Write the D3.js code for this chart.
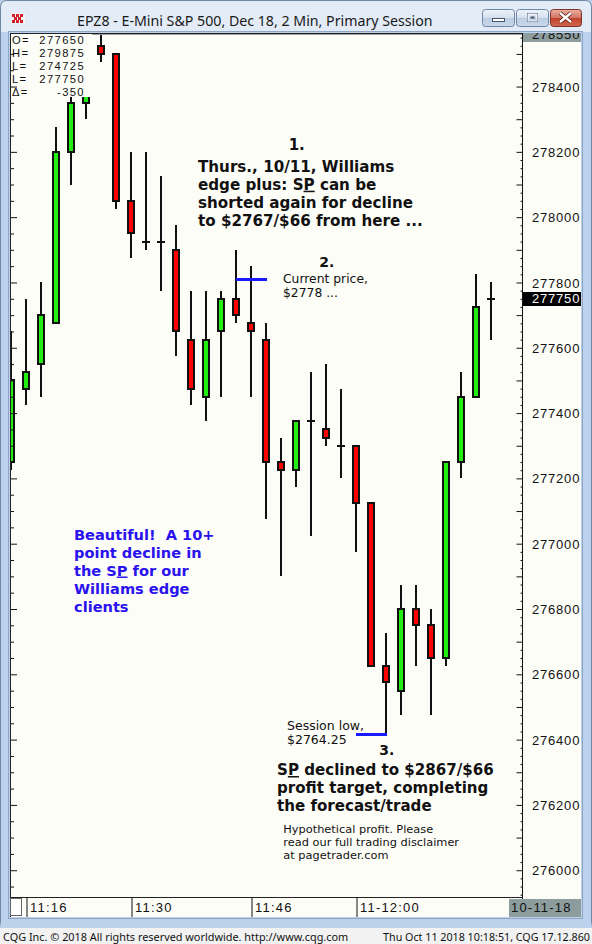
<!DOCTYPE html>
<html><head><meta charset="utf-8">
<script src="https://cdn.jsdelivr.net/npm/d3@7"></script>
<style>
html,body{margin:0;padding:0;background:#fff;}
svg{display:block;}
</style></head>
<body>
<svg id="c" width="592" height="944"></svg>
<script>
// ---------- DATA ----------
const barTimes = ["11:14","11:16","11:18","11:20","11:22","11:24","11:26","11:28","11:30","11:32","11:34",
  "11:36","11:38","11:40","11:42","11:44","11:46","11:48","11:50","11:52","11:54","11:56","11:58",
  "12:00","12:02","12:04","12:06","12:08","12:10","12:12","12:14","12:16","12:18"];
const opens  = [277250,277475,277550,277675,278200,278350,278525,278500,278050,277925,277925,
  277900,277625,277450,277650,277750,277675,277625,277250,277225,277375,277350,277300,
  277300,277125,276625,276550,276800,276750,276650,277250,277450,277750];
const highs  = [277650,277750,277800,278275,278375,278400,278575,278500,278200,278200,278125,
  277975,277775,277775,277775,277900,277850,277675,277325,277375,277525,277550,277475,
  277300,277125,276725,276875,276875,276800,277250,277525,277825,277800];
const lows   = [277225,277425,277450,277675,278100,278300,278475,278025,277875,277900,277775,
  277575,277425,277375,277450,277675,277450,277075,276900,277175,277025,277300,277200,
  276975,276625,276418,276475,276625,276475,276625,277200,277450,277625];
const closes = [277500,277525,277700,278200,278350,278375,278500,278050,277950,277925,277925,
  277650,277475,277625,277750,277700,277650,277250,277225,277375,277375,277325,277300,
  277125,276625,276575,276800,276750,276650,277250,277450,277725,277750];

const yTickValues = [276000,276200,276400,276600,276800,277000,277200,277400,277600,277800,278000,278200,278400];
const xTickBars   = [1, 8, 16, 23];
const xTickLabels = ["11:16","11:30","11:46","11-12:00"];
const dateLabel   = "10-11-18";
const lastPrice   = 277750;
const topMarker   = "278550";

const infoLabels = ["O=","H=","L=","L=","\u0394="];
const infoValues = ["277650","279875","274725","277750","-350"];

const currentPriceMark = {bar0: 15, bar1: 17.07, price: 277810};
const sessionLowMark   = {bar0: 23, bar1: 25.07, price: 276418};

const titleText  = "EPZ8 - E-Mini S&P 500, Dec 18, 2 Min, Primary Session";
const footLeft   = "CQG Inc. \u00A9 2018 All rights reserved worldwide. http://www.cqg.com";
const footRight  = "Thu Oct 11 2018 10:18:51, CQG 17.12.860";

// ---------- LAYOUT ----------
const W = 592, H = 944;
const plot = {l: 10, r: 522, t: 33, b: 897};
const svg = d3.select("#c");
const defs = svg.append("defs");

const x = d3.scaleLinear().domain([0, 1]).range([11, 26]);
const y = d3.scaleLinear().domain([275918, 278564]).range([plot.b, plot.t]);

// gradients
function grad(id, stops, vertical=true){
  const g = defs.append("linearGradient").attr("id", id)
    .attr("x1",0).attr("y1",0).attr("x2", vertical?0:1).attr("y2", vertical?1:0);
  stops.forEach(s => g.append("stop").attr("offset", s[0]).attr("stop-color", s[1]));
}
grad("gTitle", [[0,"#e3ecf7"],[1,"#c6d7ec"]]);
grad("gBtn", [[0,"#eef3fa"],[0.5,"#d3dfee"],[0.51,"#bccde3"],[1,"#c9d8ea"]]);
grad("gClose", [[0,"#eab0a2"],[0.5,"#d27363"],[0.51,"#c2412c"],[1,"#d0684f"]]);

defs.append("clipPath").attr("id","plotClip").append("rect")
  .attr("x", plot.l + 1).attr("y", plot.t).attr("width", plot.r - plot.l - 1).attr("height", plot.b - plot.t);
defs.append("clipPath").attr("id","topBoxClip").append("rect")
  .attr("x", plot.r).attr("y", plot.t).attr("width", 60).attr("height", 10);

// window frame
svg.append("rect").attr("x",0).attr("y",0).attr("width",W).attr("height",H).attr("fill","#b9cfe9");
svg.append("rect").attr("x",0.5).attr("y",0.5).attr("width",W-1).attr("height",928).attr("rx",6)
  .attr("fill","url(#gTitle)").attr("stroke","#6f86a3");
svg.append("rect").attr("x",1).attr("y",32).attr("width",W-2).attr("height",896).attr("fill","#bcd2ec");
svg.append("rect").attr("x",8.5).attr("y",31.5).attr("width",574).attr("height",887)
  .attr("fill","none").attr("stroke","#8ea6c4");

// title
const icon = svg.append("g").attr("transform","translate(11,13)");
icon.append("rect").attr("width",14).attr("height",11).attr("fill","#f4f4f4");
[[1,1],[5,1],[9,1],[3,4],[7,4],[1,7],[5,7],[9,7]].forEach(p=>
  icon.append("rect").attr("x",p[0]).attr("y",p[1]).attr("width",3).attr("height",3).attr("fill","#d0202a"));
const title = svg.append("text").attr("x",77).attr("y",26).attr("font-family","'Noto Sans', 'Open Sans', sans-serif")
  .attr("font-size",15).attr("fill","#1a1a1a").text(titleText);

// buttons
function btn(x0, w, fill, stroke){
  svg.append("rect").attr("x",x0+0.5).attr("y",9.5).attr("width",w).attr("height",17).attr("rx",3)
    .attr("fill",fill).attr("stroke",stroke);
}
btn(482, 32, "url(#gBtn)", "#7088a8");
btn(516, 32, "url(#gBtn)", "#7088a8");
btn(550, 31, "url(#gClose)", "#7d3328");
svg.append("rect").attr("x",492.5).attr("y",18.5).attr("width",12).attr("height",3).attr("fill","#fff").attr("stroke","#44556e");
svg.append("rect").attr("x",527.5).attr("y",13.5).attr("width",10).attr("height",8).attr("fill","none").attr("stroke","#44556e").attr("stroke-width",1);
svg.append("rect").attr("x",528).attr("y",14).attr("width",9).attr("height",7).attr("fill","none").attr("stroke","#fff").attr("stroke-width",1);
svg.append("rect").attr("x",530.5).attr("y",16.5).attr("width",4).attr("height",2).attr("fill","#44556e");
svg.append("path").attr("d","M560,13 L571,22 M571,13 L560,22").attr("stroke","#5a1a12").attr("stroke-width",4);
svg.append("path").attr("d","M560,13 L571,22 M571,13 L560,22").attr("stroke","#fff").attr("stroke-width",2.4);

// chart backgrounds
const bg = "#fdfdf8";
svg.append("rect").attr("x",plot.l).attr("y",plot.t).attr("width",581-plot.l).attr("height",917-plot.t).attr("fill",bg);

// status bar
svg.append("rect").attr("x",0).attr("y",928).attr("width",W).attr("height",16).attr("fill","#f2f2f2");
const fL = svg.append("text").attr("x",3).attr("y",940.5).attr("font-family","'Noto Sans', sans-serif")
  .attr("font-size",12).attr("fill","#111").text(footLeft);
const fR = svg.append("text").attr("x",590).attr("y",940.5).attr("text-anchor","end").attr("font-family","'Noto Sans', sans-serif")
  .attr("font-size",12).attr("fill","#111").text(footRight);

// ---------- CANDLES ----------
const bars = opens.map((o,i)=>({i, t: barTimes[i], o, h: highs[i], l: lows[i], c: closes[i]}));
const gC = svg.append("g").attr("clip-path","url(#plotClip)");
const px = d => Math.round(x(d.i));
const py = v => Math.round(y(v));
gC.selectAll("line.wick").data(bars).join("line").attr("class","wick")
  .attr("x1", px).attr("x2", px)
  .attr("y1", d => py(d.h)).attr("y2", d => py(d.l))
  .attr("stroke","#111").attr("stroke-width",2);
gC.selectAll("rect.body").data(bars.filter(d => d.o !== d.c)).join("rect").attr("class","body")
  .attr("x", d => px(d) - 3).attr("width", 6)
  .attr("y", d => py(Math.max(d.o,d.c))).attr("height", d => Math.max(1, py(Math.min(d.o,d.c)) - py(Math.max(d.o,d.c))))
  .attr("fill", d => d.c > d.o ? "#22ee11" : "#ff0000")
  .attr("stroke","#111").attr("stroke-width",2);
gC.selectAll("line.doji").data(bars.filter(d => d.o === d.c)).join("line").attr("class","doji")
  .attr("x1", d => px(d) - 4).attr("x2", d => px(d) + 4)
  .attr("y1", d => py(d.o)).attr("y2", d => py(d.o))
  .attr("stroke","#111").attr("stroke-width",2);

// annotation marks (blue lines)
[currentPriceMark, sessionLowMark].forEach(m => {
  svg.append("line").attr("x1", x(m.bar0)).attr("x2", x(m.bar1))
    .attr("y1", Math.round(y(m.price))+0.5).attr("y2", Math.round(y(m.price))+0.5)
    .attr("stroke","#1a1aff").attr("stroke-width",3);
});

// info box
svg.append("rect").attr("x",plot.l+1).attr("y",plot.t+1).attr("width",79).attr("height",63).attr("fill",bg);
const info = svg.append("g").attr("font-family","'Liberation Sans', Arial, sans-serif").attr("font-size",11.2)
  .attr("letter-spacing",1.4).attr("fill","#111");
const infoL = info.append("text").attr("x",12).attr("y",43.5);
infoLabels.forEach((lab,k)=> infoL.append("tspan").attr("x",12).attr("dy", k ? 13 : 0).text(lab));
const infoV = info.append("text").attr("x",85).attr("y",43.5).attr("text-anchor","end");
infoValues.forEach((v,k)=> infoV.append("tspan").attr("x",85).attr("dy", k ? 13 : 0).text(v));

// plot borders
svg.append("line").attr("x1",plot.l+0.5).attr("x2",plot.l+0.5).attr("y1",plot.t).attr("y2",917).attr("stroke","#222");
svg.append("line").attr("x1",plot.l).attr("x2",plot.r).attr("y1",plot.t+0.5).attr("y2",plot.t+0.5).attr("stroke","#222").attr("stroke-width",1);
svg.append("line").attr("x1",92).attr("x2",plot.r).attr("y1",plot.t+1.5).attr("y2",plot.t+1.5).attr("stroke","#9aa0a0").attr("stroke-width",1);
svg.append("line").attr("x1",plot.l).attr("x2",plot.r).attr("y1",plot.b+0.5).attr("y2",plot.b+0.5).attr("stroke","#222");

// right axis ticks
const minor = d3.range(275925, 278575, 25);
const gRT = svg.append("g").attr("transform",`translate(${plot.r+0.5},0)`);
gRT.call(d3.axisLeft(y).tickValues(minor.filter(v => v % 100 !== 0)).tickSize(2).tickFormat(""));
gRT.call(g => g.select(".domain").remove());
const gRT2 = svg.append("g").attr("transform",`translate(${plot.r+0.5},0)`);
gRT2.call(d3.axisLeft(y).tickValues(minor.filter(v => v % 100 === 0)).tickSize(6).tickFormat(""));
gRT2.call(g => g.select(".domain").remove());
svg.selectAll(".tick line").attr("stroke","#111");
svg.append("line").attr("x1",plot.r+0.5).attr("x2",plot.r+0.5).attr("y1",plot.t).attr("y2",917).attr("stroke","#111");

// left edge ticks
const gLT = svg.append("g").attr("transform",`translate(${plot.l+1},0)`);
gLT.call(d3.axisRight(y).tickValues(d3.range(275950, 278550, 50).filter(v => v % 200 !== 0)).tickSize(3).tickFormat(""));
gLT.call(g => g.select(".domain").remove());
const gLT2 = svg.append("g").attr("transform",`translate(${plot.l+1},0)`);
gLT2.call(d3.axisRight(y).tickValues(d3.range(276000, 278550, 200)).tickSize(6).tickFormat(""));
gLT2.call(g => g.select(".domain").remove());
gLT.selectAll("line").attr("stroke","#111");
gLT2.selectAll("line").attr("stroke","#111");

// right axis labels
const gRL = svg.append("g").attr("transform",`translate(${plot.r},0)`);
gRL.call(d3.axisRight(y).tickValues(yTickValues).tickSize(0).tickPadding(10).tickFormat(d3.format("d")));
gRL.call(g => g.select(".domain").remove());
gRL.selectAll("text").attr("font-family","'Liberation Sans', Arial, sans-serif").attr("font-size",13)
  .attr("letter-spacing",0.8).attr("fill","#111").attr("dy","0.35em");

// top marker box (clipped)
svg.append("rect").attr("x",plot.r+1).attr("y",plot.t).attr("width",58).attr("height",9).attr("fill","#8d9c9c");
svg.append("text").attr("clip-path","url(#topBoxClip)").attr("x",532).attr("y",38.5)
  .attr("font-family","'Liberation Sans', Arial, sans-serif").attr("font-size",13).attr("letter-spacing",0.8)
  .attr("fill","#111").text(topMarker);

// last price box
svg.append("rect").attr("x",plot.r+1).attr("y",Math.round(y(lastPrice))-7).attr("width",58).attr("height",14).attr("fill","#000");
svg.append("text").attr("x",532).attr("y",y(lastPrice)).attr("dy","0.35em")
  .attr("font-family","'Liberation Sans', Arial, sans-serif").attr("font-size",13).attr("letter-spacing",0.8)
  .attr("fill","#fff").text(d3.format("d")(lastPrice));

// x axis row
svg.append("rect").attr("x",10.5).attr("y",898.5).attr("width",11).attr("height",17).attr("fill","#fff").attr("stroke","#666");
const gX = svg.append("g").attr("transform",`translate(0,${plot.b+1})`);
gX.call(d3.axisBottom(x).tickValues(xTickBars).tickSize(19).tickFormat((d,k)=>xTickLabels[k]));
gX.call(g => g.select(".domain").remove());
gX.selectAll("line").attr("stroke","#111").attr("transform","translate(0.5,0)");
gX.selectAll("text").attr("text-anchor","start").attr("x",3.5).attr("y",13.5).attr("dy",0)
  .attr("font-family","'Liberation Sans', Arial, sans-serif").attr("font-size",13).attr("letter-spacing",1.2).attr("fill","#111");
svg.append("rect").attr("x",509).attr("y",899).attr("width",72).attr("height",18).attr("fill","#8d9c9c");
svg.append("text").attr("x",511).attr("y",912).attr("font-family","'Liberation Sans', Arial, sans-serif")
  .attr("font-size",13).attr("letter-spacing",1.2).attr("fill","#111").text(dateLabel);

// ---------- TEXT ANNOTATIONS ----------
function block(x0, y0, lh, lines, opts){
  const g = svg.append("g").attr("font-family","'DejaVu Sans', Verdana, sans-serif")
    .attr("font-weight", opts.bold ? "bold" : "normal").attr("fill", opts.color || "#111")
    .attr("font-size", opts.size);
  const nodes = lines.map((ln,k)=>{
    const t = g.append("text").attr("x",x0).attr("y",y0+k*lh).attr("xml:space","preserve").style("white-space","pre");
    ln.forEach(seg => {
      const ts = t.append("tspan").text(seg.t);
      if (seg.u) ts.attr("text-decoration","underline");
    });
    return t;
  });
  if (opts.fitLine !== undefined){
    const w = nodes[opts.fitLine].node().getComputedTextLength();
    g.attr("font-size", opts.size * opts.fitWidth / w);
  }
  return g;
}
const P = s => [{t:s}];
block(296.7, 150, 18, [P("1.")], {bold:true, size:15}).attr("text-anchor","middle");
block(198, 171.7, 18, [
  P("Thurs., 10/11, Williams"),
  [{t:"edge plus: S"},{t:"P",u:true},{t:" can be"}],
  P("shorted again for decline"),
  P("to $2767/$66 from here ...")
], {bold:true, size:15, fitLine:3, fitWidth:225});

block(326.7, 267.3, 14, [P("2.")], {bold:true, size:14}).attr("text-anchor","middle");
block(283, 283.3, 14, [P("Current price,"), P("$2778 ...")], {size:12.5, fitLine:0, fitWidth:85});

block(287, 730, 14, [P("Session low,"), P("$2764.25")], {size:12.5, fitLine:1, fitWidth:59.7});
block(386.7, 755, 18, [P("3.")], {bold:true, size:14}).attr("text-anchor","middle");
block(277, 775, 18, [
  [{t:"S"},{t:"P",u:true},{t:" declined to $2867/$66"}],
  P("profit target, completing"),
  P("the forecast/trade")
], {bold:true, size:15, fitLine:0, fitWidth:217});
block(283.3, 832.5, 13, [
  P("Hypothetical profit. Please"),
  P("read our full trading disclaimer"),
  P("at pagetrader.com")
], {size:11.3, fitLine:1, fitWidth:176});

block(74, 539.5, 18, [
  P("Beautiful!  A 10+"),
  P("point decline in"),
  [{t:"the S"},{t:"P",u:true},{t:" for our"}],
  P("Williams edge"),
  P("clients")
], {bold:true, size:15, color:"#2a12ee", fitLine:1, fitWidth:127.7});

// fit title & footer
function fit(sel, w){
  const cur = sel.node().getComputedTextLength();
  sel.attr("font-size", parseFloat(sel.attr("font-size")) * w / cur);
}
fit(title, 356);
fit(fL, 346);
fit(fR, 207);
</script>
</body></html>
